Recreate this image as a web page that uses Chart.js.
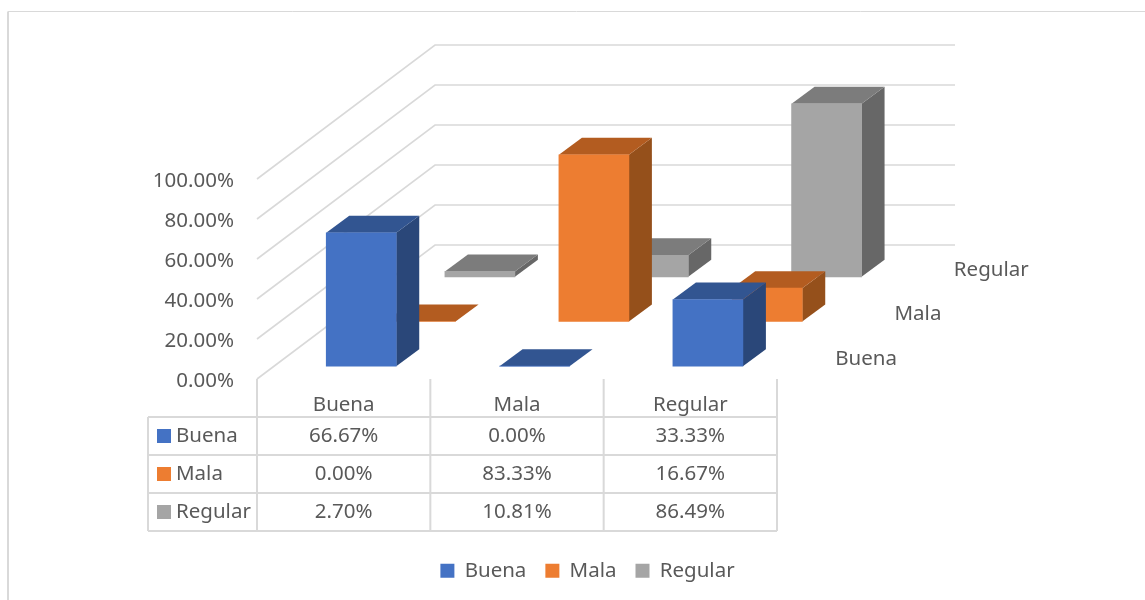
<!DOCTYPE html>
<html>
<head>
<meta charset="utf-8">
<style>html,body{margin:0;padding:0;background:#fff}canvas{display:block}</style>
<script src="https://cdn.jsdelivr.net/npm/chart.js@4/dist/chart.umd.min.js"></script>
</head>
<body>
<canvas id="c" width="1145" height="600"></canvas>
<script>
const categories = ['Buena', 'Mala', 'Regular'];
const seriesNames = ['Buena', 'Mala', 'Regular'];
const buena = [66.67, 0, 33.33];
const mala = [0, 83.33, 16.67];
const regular = [2.70, 10.81, 86.49];
const seriesValues = [buena, mala, regular];
const frontColors = ['#4472C4', '#ED7D31', '#A5A5A5'];
const topColors = ['#325591', '#B35C20', '#7C7C7C'];
const sideColors = ['#2A4779', '#95501B', '#676767'];

const TEXT = '#595959', LINE = '#D9D9D9', FONT = '"Noto Sans", Lato, sans-serif', SIZE = 20.5;
const pct = v => v.toFixed(2) + '%';

// oblique projection of the depth axis
const WALL = {dx: 178, dy: -134};
const SLOT = {dx: WALL.dx / 3, dy: WALL.dy / 3};
const BAR = {w: 70, dx: 23, dy: -17};
const slotShift = i => ({
  x: (i + 0.5) * SLOT.dx - BAR.dx / 2 - 0.6,
  y: (i + 0.5) * SLOT.dy - BAR.dy / 2 + 1
});

function poly(ctx, pts, fill) {
  ctx.beginPath();
  pts.forEach((p, i) => i ? ctx.lineTo(p[0], p[1]) : ctx.moveTo(p[0], p[1]));
  ctx.closePath();
  ctx.fillStyle = fill;
  ctx.fill();
}

const prism = {
  id: 'prism',
  afterDatasetsUpdate(chart) {
    chart.data.datasets.forEach((ds, i) => {
      const s = slotShift(i);
      chart.getDatasetMeta(i).data.forEach(el => {
        el.x += s.x; el.y += s.y; el.base += s.y;
      });
    });
  },
  beforeDatasetsDraw(chart) {
    const ctx = chart.ctx, y = chart.scales.y, x = chart.scales.x;
    const left = x.left, right = x.right;
    ctx.save();
    ctx.strokeStyle = LINE;
    ctx.lineWidth = 1.6;
    y.ticks.forEach(t => {
      const py = y.getPixelForValue(t.value);
      ctx.beginPath();
      ctx.moveTo(left, py);
      ctx.lineTo(left + WALL.dx, py + WALL.dy);
      ctx.lineTo(right + WALL.dx, py + WALL.dy);
      ctx.stroke();
    });
    // depth axis labels
    ctx.fillStyle = TEXT;
    ctx.font = SIZE + 'px ' + FONT;
    ctx.textAlign = 'left';
    ctx.textBaseline = 'middle';
    seriesNames.forEach((n, i) => {
      ctx.fillText(n,
        right + (i + 0.5) * SLOT.dx + 28.5,
        y.getPixelForValue(0) + (i + 0.5) * SLOT.dy + 2.5);
    });
    ctx.restore();
  },
  beforeDatasetDraw(chart, args) {
    const ctx = chart.ctx, i = args.index;
    chart.getDatasetMeta(i).data.forEach(el => {
      const l = el.x - BAR.w / 2, r = el.x + BAR.w / 2, t = el.y, b = el.base;
      poly(ctx, [[r, t], [r + BAR.dx, t + BAR.dy], [r + BAR.dx, b + BAR.dy], [r, b]], sideColors[i]);
      poly(ctx, [[l, t], [l + BAR.dx, t + BAR.dy], [r + BAR.dx, t + BAR.dy], [r, t]], topColors[i]);
    });
  },
  afterDraw(chart) {
    const ctx = chart.ctx, x = chart.scales.x, y = chart.scales.y;
    const top = y.bottom, rows = [417, 455, 493, 531], tableLeft = 148;
    const step = (x.right - x.left) / categories.length;
    ctx.save();
    ctx.strokeStyle = LINE;
    // frame of the whole chart
    ctx.beginPath();
    ctx.moveTo(8, 600); ctx.lineTo(8, 11.5);
    ctx.lineWidth = 2; ctx.stroke();
    ctx.beginPath();
    ctx.moveTo(8, 11.5); ctx.lineTo(1145, 11.5);
    ctx.lineWidth = 1; ctx.stroke();
    // data table grid
    ctx.lineWidth = 2;
    ctx.beginPath();
    rows.forEach(r => { ctx.moveTo(tableLeft, r); ctx.lineTo(x.right, r); });
    ctx.moveTo(tableLeft, rows[0]); ctx.lineTo(tableLeft, rows[3]);
    for (let c = 0; c <= categories.length; c++) {
      const px = x.left + c * step;
      ctx.moveTo(px, top); ctx.lineTo(px, rows[3]);
    }
    ctx.stroke();
    // data table content
    ctx.font = SIZE + 'px ' + FONT;
    ctx.textBaseline = 'middle';
    seriesNames.forEach((n, i) => {
      const cy = (rows[i] + rows[i + 1]) / 2;
      ctx.fillStyle = frontColors[i];
      ctx.fillRect(157, cy - 7, 14, 14);
      ctx.fillStyle = TEXT;
      ctx.textAlign = 'left';
      ctx.fillText(n, 176, cy);
      ctx.textAlign = 'center';
      seriesValues[i].forEach((v, c) => {
        ctx.fillText(pct(v), x.getPixelForValue(c), cy);
      });
    });
    ctx.restore();
  }
};

new Chart(document.getElementById('c'), {
  type: 'bar',
  data: {
    labels: categories,
    datasets: seriesNames.map((n, i) => ({
      label: n,
      data: seriesValues[i],
      backgroundColor: frontColors[i],
      borderWidth: 0,
      barThickness: BAR.w,
      grouped: false,
      clip: false
    }))
  },
  plugins: [prism],
  options: {
    responsive: false,
    animation: false,
    layout: {padding: {left: 30, top: 179, right: 0, bottom: 9}},
    plugins: {
      legend: {
        position: 'bottom',
        labels: {boxWidth: 14, boxHeight: 14, padding: 19, color: TEXT, font: {family: FONT, size: SIZE}}
      },
      tooltip: {enabled: false}
    },
    scales: {
      x: {
        grid: {display: false},
        border: {display: false},
        ticks: {color: TEXT, font: {family: FONT, size: SIZE}, padding: 6, maxRotation: 0},
        afterFit(s) { s.height = 600 - 379 - 9 - s.chart.legend.height; }
      },
      y: {
        min: 0, max: 100,
        grid: {display: false, drawTicks: false},
        border: {display: false},
        ticks: {stepSize: 20, color: TEXT, font: {family: FONT, size: SIZE}, padding: 23, labelOffset: 2, callback: v => pct(v)},
        afterFit(s) { s.width = 227; }
      },
      y2: {
        position: 'right',
        grid: {display: false, drawTicks: false},
        border: {display: false},
        ticks: {display: false},
        afterFit(s) { s.width = 368; }
      }
    }
  }
});
</script>
</body>
</html>
